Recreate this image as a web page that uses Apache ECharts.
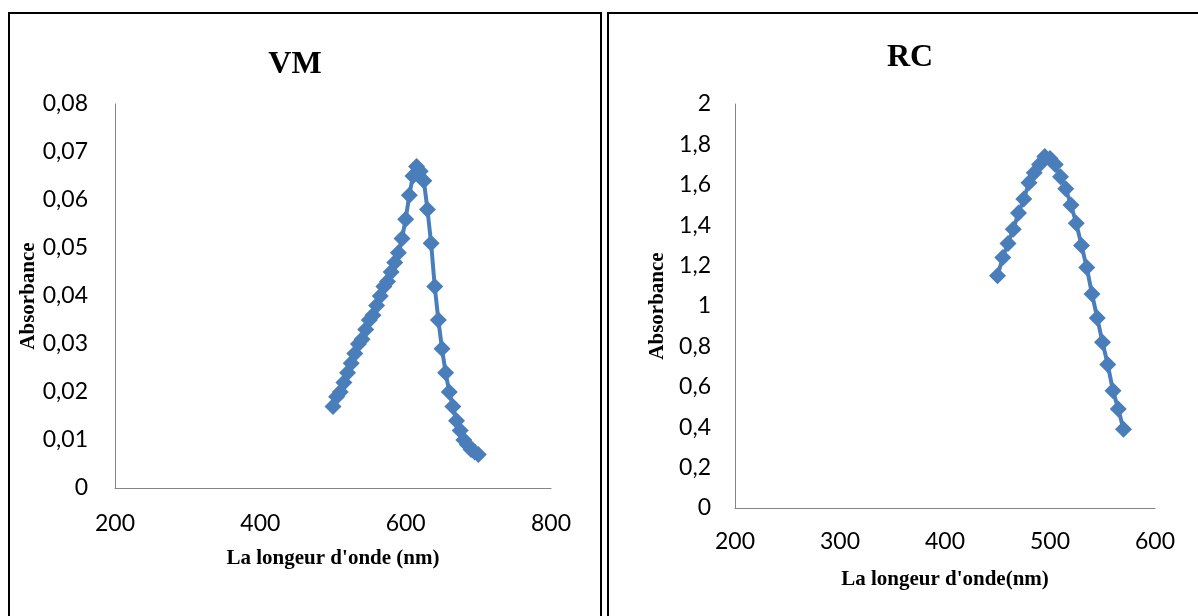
<!DOCTYPE html>
<html>
<head>
<meta charset="utf-8">
<script src="https://cdn.jsdelivr.net/npm/echarts@6/dist/echarts.min.js"></script>
<style>
  html, body { margin: 0; padding: 0; background: #fff; }
  #chart { width: 1198px; height: 616px; }
</style>
</head>
<body>
<div id="chart"></div>
<script>
  // VM spectrum
  var vmWave = [500, 505, 510, 515, 520, 525, 530, 535, 540, 545, 550, 555, 560, 565, 570, 575, 580, 585, 590, 595,
                600, 605, 610, 615, 620, 625, 630, 635, 640, 645, 650, 655, 660, 665, 670, 675, 680, 685, 690, 695, 700];
  var vmAbs = [0.017, 0.019, 0.020, 0.022, 0.024, 0.026, 0.028, 0.030, 0.031, 0.033, 0.035, 0.036, 0.038, 0.040, 0.042, 0.043, 0.045, 0.047, 0.049, 0.052,
               0.056, 0.061, 0.065, 0.067, 0.066, 0.064, 0.058, 0.051, 0.042, 0.035, 0.029, 0.024, 0.020, 0.017, 0.014, 0.012, 0.010, 0.009, 0.008, 0.0075, 0.007];

  // RC spectrum
  var rcWave = [450, 455, 460, 465, 470, 475, 480, 485, 490, 495, 500, 505, 510, 515, 520, 525, 530, 535, 540, 545, 550, 555, 560, 565, 570];
  var rcAbs = [1.15, 1.24, 1.31, 1.38, 1.46, 1.53, 1.61, 1.66, 1.70, 1.74, 1.73, 1.70, 1.64, 1.58, 1.50, 1.41, 1.30, 1.19, 1.06, 0.94, 0.82, 0.71, 0.58, 0.49, 0.39];

  var titles = ['VM', 'RC'];
  var xNames = ["La longeur d'onde (nm)", "La longeur d'onde(nm)"];
  var yName = 'Absorbance';

  var blue = '#4a7ebb';
  var serif = '"Liberation Serif", "DejaVu Serif", serif';
  var sans = 'Lato, "Open Sans", sans-serif';

  function pairs(xs, ys) {
    return xs.map(function (x, i) { return [x, ys[i]]; });
  }
  function comma(v) {
    return String(Math.round(v * 100) / 100).replace('.', ',');
  }

  var axisLine = { show: true, lineStyle: { color: '#868686', width: 1 } };
  var nameStyle = { fontFamily: serif, fontWeight: 'bold', fontSize: 21, color: '#000' };

  var myChart = echarts.init(document.getElementById('chart'));
  var option = {
    backgroundColor: '#fff',
    animation: false,
    title: [
      { text: titles[0], left: 290, top: 44, textAlign: 'center',
        textStyle: { fontFamily: serif, fontWeight: 'bold', fontSize: 32, color: '#000' } },
      { text: titles[1], left: 905, top: 37, textAlign: 'center',
        textStyle: { fontFamily: serif, fontWeight: 'bold', fontSize: 32, color: '#000' } }
    ],
    graphic: [
      { type: 'rect', shape: { x: 9, y: 13, width: 592, height: 620 },
        style: { fill: 'none', stroke: '#000', lineWidth: 2 } },
      { type: 'rect', shape: { x: 608, y: 13, width: 600, height: 620 },
        style: { fill: 'none', stroke: '#000', lineWidth: 2 } }
    ],
    grid: [
      { left: 115, top: 104, width: 436, height: 384 },
      { left: 735, top: 104, width: 420, height: 404 }
    ],
    xAxis: [
      { type: 'value', gridIndex: 0, min: 200, max: 800, interval: 200,
        name: xNames[0], nameLocation: 'middle', nameGap: 60, nameTextStyle: nameStyle,
        axisLine: axisLine, axisTick: { show: false }, splitLine: { show: false },
        axisLabel: { margin: 24, fontFamily: sans, fontSize: 23, color: '#000' } },
      { type: 'value', gridIndex: 1, min: 200, max: 600, interval: 100,
        name: xNames[1], nameLocation: 'middle', nameGap: 61, nameTextStyle: nameStyle,
        axisLine: axisLine, axisTick: { show: false }, splitLine: { show: false },
        axisLabel: { margin: 22, fontFamily: sans, fontSize: 23, color: '#000' } }
    ],
    yAxis: [
      { type: 'value', gridIndex: 0, min: 0, max: 0.08, interval: 0.01,
        name: yName, nameLocation: 'middle', nameGap: 76, nameRotate: 90, nameTextStyle: nameStyle,
        axisLine: axisLine, axisTick: { show: false }, splitLine: { show: false },
        axisLabel: { margin: 27, fontFamily: sans, fontSize: 23, color: '#000', formatter: comma } },
      { type: 'value', gridIndex: 1, min: 0, max: 2, interval: 0.2,
        name: yName, nameLocation: 'middle', nameGap: 67, nameRotate: 90, nameTextStyle: nameStyle,
        axisLine: axisLine, axisTick: { show: false }, splitLine: { show: false },
        axisLabel: { margin: 24, fontFamily: sans, fontSize: 23, color: '#000', formatter: comma } }
    ],
    series: [
      { type: 'line', xAxisIndex: 0, yAxisIndex: 0, data: pairs(vmWave, vmAbs),
        symbol: 'diamond', symbolSize: 17, showAllSymbol: true,
        lineStyle: { color: blue, width: 4 }, itemStyle: { color: blue } },
      { type: 'line', xAxisIndex: 1, yAxisIndex: 1, data: pairs(rcWave, rcAbs),
        symbol: 'diamond', symbolSize: 17, showAllSymbol: true,
        lineStyle: { color: blue, width: 4 }, itemStyle: { color: blue } }
    ]
  };
  myChart.setOption(option);
</script>
</body>
</html>
